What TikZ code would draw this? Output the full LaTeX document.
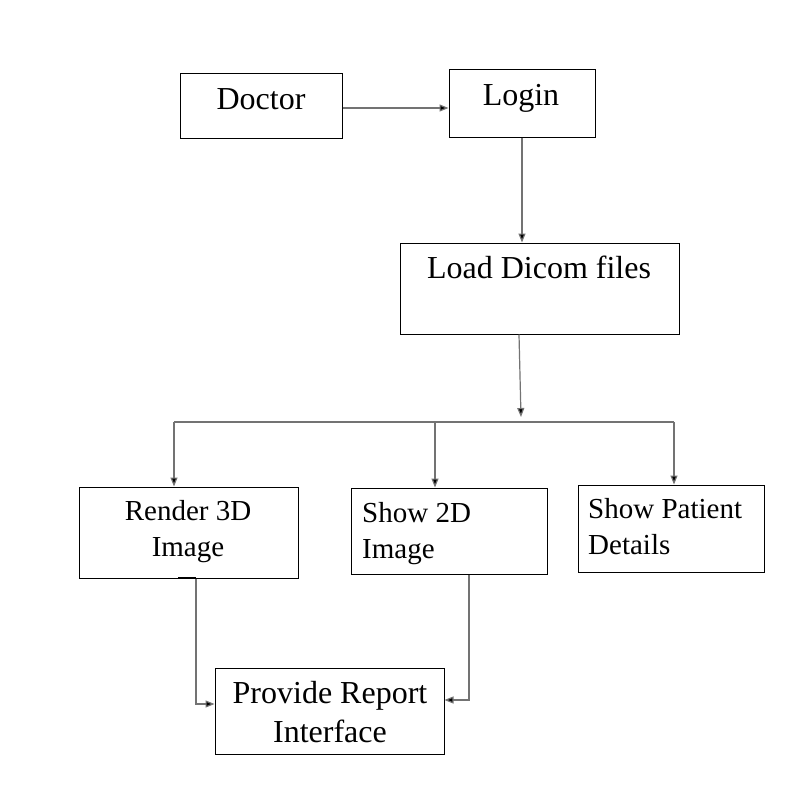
\documentclass[tikz,border=0pt]{standalone}
\usepackage{fontspec}
\setmainfont{Liberation Serif}
\usetikzlibrary{arrows.meta}
\begin{document}
\begin{tikzpicture}[x=1pt,y=-1pt,
  box/.style={draw=black,line width=1pt,inner sep=0pt},
  txt/.style={font=\fontsize{32}{36}\selectfont,inner sep=0pt,anchor=base},
  txts/.style={font=\fontsize{29}{36}\selectfont,inner sep=0pt,anchor=base},
  txtl/.style={font=\fontsize{29}{36}\selectfont,inner sep=0pt,anchor=base west},
  conn/.style={draw=black!55,line width=1.2pt},
  arr/.style={conn,-{Triangle[length=9pt,width=7pt,fill=black]}}]
\useasboundingbox (0,0) rectangle (796,797);
\fill[white] (0,0) rectangle (796,797);
% boxes
\node[box,minimum width=162pt,minimum height=64pt] (doc) at (261,106) {};
\node[box,minimum width=146pt,minimum height=67pt] (login) at (522,103.5) {};
\node[box,minimum width=279pt,minimum height=91pt] (load) at (539.5,288.5) {};
\node[box,minimum width=219pt,minimum height=91pt] (r3d) at (188.5,532.5) {};
\node[box,minimum width=196pt,minimum height=86pt] (s2d) at (449,531) {};
\node[box,minimum width=186pt,minimum height=87pt] (spd) at (671,528.5) {};
\node[box,minimum width=229pt,minimum height=86pt] (rep) at (329.5,711) {};
% texts
\node[txt] (tdoc) at (261,110) {Doctor};
\node[txt] (tlogin) at (521,106) {Login};
\node[txt] (tload) at (539,278) {Load Dicom files};
\node[txts] (tr1) at (188,520) {Render 3D};
\node[txts] (tr2) at (188,556) {Image};
\node[txtl] (ts1) at (362,522) {Show 2D};
\node[txtl] (ts2) at (362,558) {Image};
\node[txtl] (tp1) at (588,518) {Show Patient};
\node[txtl] (tp2) at (588,554) {Details};
\node[txt] (tq1) at (330,703) {Provide Report};
\node[txt] (tq2) at (330,742) {Interface};
% connectors
\draw[arr] (doc.east |- 0,108) -- (login.west |- 0,108);
\draw[arr] (login.south) -- (load.north -| login.south);
\coordinate (split) at (521,417);
\draw[arr] (load.south -| 519,0) -- (split);
\draw[conn] (174,422) -- (674,422);
\draw[arr] (174,422) -- (r3d.north -| 174,0);
\draw[arr] (435,422) -- (s2d.north -| 435,0);
\draw[arr] (674,422) -- (spd.north -| 674,0);
\draw[black,line width=2pt] (178,578) -- (196,578);
\draw[arr] (r3d.south -| 196,0) -- (196,704) -- (rep.west |- 0,704);
\draw[arr] (s2d.south -| 469,0) -- (469,700) -- (rep.east |- 0,700);
\end{tikzpicture}
\end{document}
